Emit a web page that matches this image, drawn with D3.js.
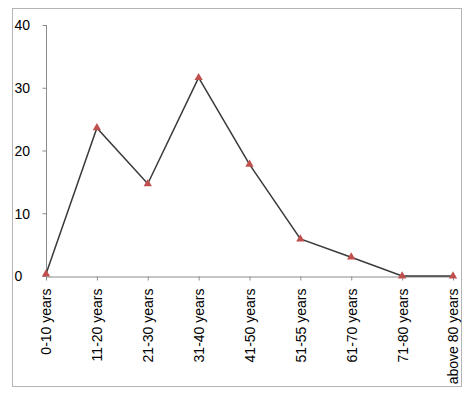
<!DOCTYPE html>
<meta charset="utf-8">
<style>
body { margin: 0; background: #fff; }
text { font-family: "Liberation Sans", Arial, sans-serif; font-size: 14px; fill: #000; }
</style>
<body>
<script src="https://d3js.org/d3.v7.min.js"></script>
<script>

// chart data
var categories = ["0-10 years", "11-20 years", "21-30 years", "31-40 years", "41-50 years",
                  "51-55 years", "61-70 years", "71-80 years", "above 80 years"];
var values = [0.3, 23.6, 14.7, 31.6, 17.8, 5.9, 3.0, 0, 0];
var yTicks = [0, 10, 20, 30, 40];

var W = 476, H = 396;
var plot = {left: 46, right: 453, top: 25, bottom: 276};

var svg = d3.select("body").append("svg")
    .attr("width", W)
    .attr("height", H);

// outer frame
svg.append("rect")
    .attr("x", 12.5).attr("y", 8.5)
    .attr("width", 449).attr("height", 378)
    .attr("fill", "none")
    .attr("stroke", "#b4b4b4");

var x = d3.scalePoint()
    .domain(categories)
    .range([plot.left, plot.right]);

var y = d3.scaleLinear()
    .domain([0, 40])
    .range([plot.bottom, plot.top]);

// y axis
var yAxis = svg.append("g")
    .attr("transform", "translate(" + (plot.left + 0.5) + ",0)")
    .call(d3.axisLeft(y).tickValues(yTicks).tickSize(4).tickFormat(d3.format("d")));
yAxis.select(".domain").attr("stroke", "#8c8c8c").attr("d", "M0," + plot.top + "V" + plot.bottom);
yAxis.selectAll(".tick line").attr("stroke", "#8c8c8c");
yAxis.selectAll(".tick text")
    .attr("text-anchor", "start")
    .attr("x", 14 - plot.left)
    .attr("dy", "0.35em")
    .style("font-size", "14px")
    .style("font-family", "'Liberation Sans', Arial, sans-serif");

// x axis
var xAxis = svg.append("g")
    .attr("transform", "translate(0," + (plot.bottom + 0.5) + ")")
    .call(d3.axisBottom(x).tickSize(4).tickSizeOuter(0));
xAxis.select(".domain").attr("stroke", "#8c8c8c");
xAxis.selectAll(".tick line").attr("stroke", "#8c8c8c");
xAxis.selectAll(".tick text")
    .attr("transform", "rotate(-90)")
    .attr("text-anchor", "end")
    .attr("x", -12)
    .attr("y", 0)
    .attr("dy", "0.35em")
    .style("font-size", "14px")
    .style("font-family", "'Liberation Sans', Arial, sans-serif");

// line
var line = d3.line()
    .x(function(d, i) { return x(categories[i]); })
    .y(function(d) { return y(d); });

svg.append("path")
    .datum(values)
    .attr("fill", "none")
    .attr("stroke", "#3a3a3a")
    .attr("stroke-width", 1.5)
    .attr("d", line);

// triangle markers
svg.selectAll(".marker")
    .data(values)
  .enter().append("path")
    .attr("class", "marker")
    .attr("transform", function(d, i) {
      return "translate(" + x(categories[i]) + "," + y(d) + ")"; })
    .attr("d", d3.symbol().type(d3.symbolTriangle).size(30))
    .attr("fill", "#c0504d");

</script>
</body>
